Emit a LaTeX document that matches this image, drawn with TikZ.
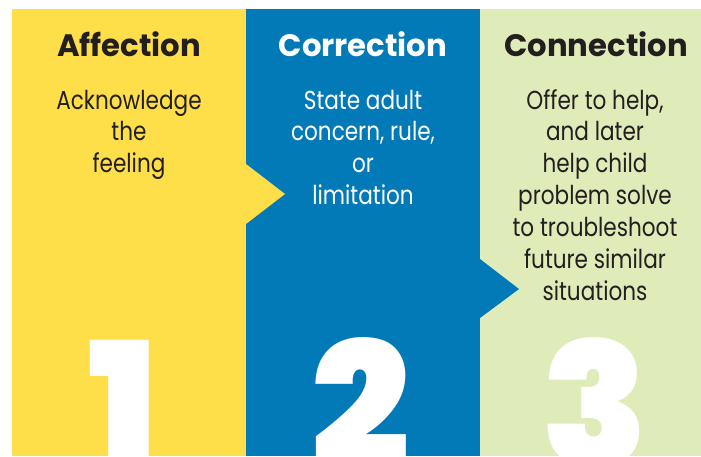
\documentclass[tikz,border=0pt]{standalone}
\usepackage{fontspec}
\setmainfont{Poppins}
\IfFontExistsTF{Poppins Black}{\newfontfamily\digitfont{Poppins Black}}{\newfontfamily\digitfont{Poppins}[UprightFont=*-Bold]}
\definecolor{pyellow}{HTML}{FEDF4A}
\definecolor{pblue}{HTML}{027AB7}
\definecolor{pgreen}{HTML}{DFEBB8}
\definecolor{ink}{HTML}{231F20}
\tikzset{
  title/.style={font=\fontsize{31}{31}\selectfont\bfseries, anchor=base, inner sep=0pt, xscale=0.99},
  body/.style={font=\fontsize{26}{26}\selectfont, anchor=base, inner sep=0pt, xscale=0.83},
  digit/.style={font=\digitfont\fontsize{174}{174}\selectfont, text=white, anchor=base, inner sep=0pt, xscale=1.0},
}
\begin{document}
\begin{tikzpicture}[x=1pt,y=-1pt]
\useasboundingbox (0,0) rectangle (701,456);
\fill[white] (0,0) rectangle (701,456);
% panels
\fill[pyellow] (12,9) rectangle (246,456);
\fill[pblue] (246,9) rectangle (480,456);
\fill[pgreen] (480,9) rectangle (701,456);
% arrows
\fill[pyellow] (246,164) -- (285,194) -- (246,224) -- cycle;
\fill[pblue] (480,259) -- (519,289) -- (480,318) -- cycle;
% digits (cut by the lower edge, as in the picture)
\begin{scope}
\clip (0,0) rectangle (701,456);
\node[digit] (d1) at (123,467) {1};
\node[digit] (d2) at (360.5,467) {2};
\node[digit] (d3) at (594.5,467) {3};
\end{scope}
% titles
\node[title, text=ink] (t1) at (129,56) {Affection};
\node[title, text=white] (t2) at (363,56) {Correction};
\node[title, text=ink] (t3) at (596,56) {Connection};
% body 1
\node[body, text=ink] (a1) at (129,109) {Acknowledge};
\node[body, text=ink] (a2) at (129,140) {the};
\node[body, text=ink] (a3) at (129,172) {feeling};
% body 2
\node[body, text=white] (b1) at (363,109) {State adult};
\node[body, text=white] (b2) at (363,140) {concern, rule,};
\node[body, text=white] (b3) at (363,172) {or};
\node[body, text=white] (b4) at (363,204) {limitation};
% body 3
\node[body, text=ink] (c1) at (595,109) {Offer to help,};
\node[body, text=ink] (c2) at (595,140) {and later};
\node[body, text=ink] (c3) at (595,172) {help child};
\node[body, text=ink] (c4) at (595,204) {problem solve};
\node[body, text=ink] (c5) at (595,236) {to troubleshoot};
\node[body, text=ink] (c6) at (595,268) {future similar};
\node[body, text=ink] (c7) at (595,300) {situations};
\end{tikzpicture}
\end{document}
